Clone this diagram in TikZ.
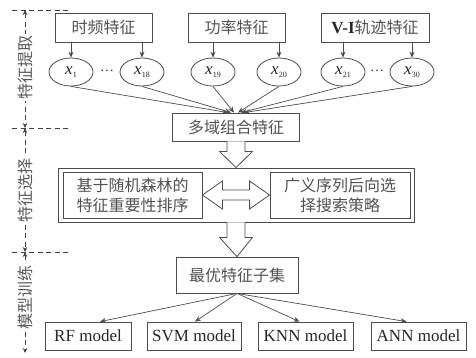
\documentclass[tikz,border=0pt]{standalone}
\usepackage{fontspec}
\setmainfont{Liberation Serif}
\newfontfamily\cjk{Noto Sans CJK SC}
\usetikzlibrary{arrows.meta,calc,shapes.geometric}
\newcommand\xsub[1]{{\fontsize{17}{17}\selectfont\textit{x}}\raisebox{-2.5pt}{\fontsize{8}{8}\selectfont #1}}
\begin{document}
\begin{tikzpicture}[x=1pt,y=-1pt,line width=0.8pt,
  box/.style={draw=black!70, rectangle, inner sep=0pt, text=black!85},
  cn/.style={font=\cjk\fontsize{16}{20}\selectfont, text=black!68},
  en/.style={font=\fontsize{17}{20}\selectfont},
  ell/.style={draw=black!70, ellipse, minimum width=44pt, minimum height=28pt, inner sep=0pt, text=black!85},
  arr/.style={draw=black!70, line width=0.7pt, -{Stealth[length=6pt,width=5pt]}},
  hol/.style={draw=black!70, line width=0.8pt, fill=white, line join=miter},
  axis/.style={draw=black!75, line width=0.8pt, dash pattern=on 5pt off 3.5pt, {Stealth[length=5pt,width=4.5pt]}-{Stealth[length=5pt,width=4.5pt]}},
  tick/.style={draw=black!75, line width=0.8pt, dash pattern=on 5pt off 3.5pt},
  lab/.style={font=\cjk\fontsize{16}{20}\selectfont, text=black!65, fill=white, rotate=90, inner sep=1.5pt}
]
\useasboundingbox (0,0) rectangle (476,357);

% axis
\coordinate (a0) at (25,10);
\coordinate (a1) at (25,128);
\coordinate (a2) at (25,252);
\coordinate (a3) at (25,353);
\coordinate (t0l) at (12,10);  \coordinate (t0r) at (70,10);
\coordinate (t1l) at (12,128); \coordinate (t1r) at (70,128);
\coordinate (t2l) at (12,252); \coordinate (t2r) at (70,252);
\draw[tick] (t0l) -- (t0r);
\draw[tick] (t1l) -- (t1r);
\draw[tick] (t2l) -- (t2r);
\draw[axis] (a0) -- (a1);
\draw[axis] (a1) -- (a2);
\draw[axis] (a2) -- (a3);
\node[lab] (l1) at (25,67) {特征提取};
\node[lab] (l2) at (25,190) {特征选择};
\node[lab] (l3) at (25,297) {模型训练};

% top boxes
\node[box, cn, minimum width=97pt, minimum height=29pt] (tf) at (103.5,27.5) {时频特征};
\node[box, cn, minimum width=97pt, minimum height=29pt] (gl) at (236.5,27.5) {功率特征};
\node[box, cn, minimum width=108pt, minimum height=29pt] (vi) at (375,27.5) {{\fontspec{Liberation Serif}\fontsize{17}{20}\selectfont\bfseries\color{black!85} V-I}轨迹特征};

% ellipses
\node[ell] (e1) at (71,72) {\xsub{1}};
\node[ell] (e18) at (142,72) {\xsub{18}};
\node[ell] (e19) at (213,72) {\xsub{19}};
\node[ell] (e20) at (279,72) {\xsub{20}};
\node[ell] (e21) at (343,72) {\xsub{21}};
\node[ell] (e30) at (412,72) {\xsub{30}};
\node[text=black!80, font=\fontsize{14}{14}\selectfont] (d1) at (107,71) {…};
\node[text=black!80, font=\fontsize{14}{14}\selectfont] (d2) at (377,71) {…};

\draw[arr] (e1.north |- tf.south) -- (e1.north);
\draw[arr] (e18.north |- tf.south) -- (e18.north);
\draw[arr] (e19.north |- gl.south) -- (e19.north);
\draw[arr] (e20.north |- gl.south) -- (e20.north);
\draw[arr] (e21.north |- vi.south) -- (e21.north);
\draw[arr] (e30.north |- vi.south) -- (e30.north);

% multi-domain
\node[box, cn, minimum width=127pt, minimum height=28pt] (dom) at (236,127) {多域组合特征};
\draw[arr] (e1.south) -- ($(dom.north)+(-8,0)$);
\draw[arr] (e18.south) -- ($(dom.north)+(-5,0)$);
\draw[arr] (e19.south) -- ($(dom.north)+(-2,0)$);
\draw[arr] (e20.south) -- ($(dom.north)+(2,0)$);
\draw[arr] (e21.south) -- ($(dom.north)+(5,0)$);
\draw[arr] (e30.south) -- ($(dom.north)+(8,0)$);

% feature selection frame
\node[box, minimum width=356pt, minimum height=54pt] (outer) at (236,195) {};
\node[box, cn, align=center, minimum width=139pt, minimum height=46pt] (rfb) at (132.5,195) {基于随机森林的\\特征重要性排序};
\node[box, cn, align=center, minimum width=140pt, minimum height=46pt] (bsb) at (340,195) {广义序列后向选\\择搜索策略};

% hollow arrows
\draw[hol] ($(dom.south)+(-9,0)$) -- ++(0,10) -- ++(-7.5,0) -- (outer.north) -- ($(dom.south)+(16.5,10)$) -- ++(-7.5,0) -- ($(dom.south)+(9,0)$);
\draw[hol] (rfb.east) -- ++(20,-14) -- ++(0,9) -- ($(bsb.west)+(-20,-5)$) -- ++(0,-9) -- (bsb.west) -- ++(-20,14) -- ++(0,-9) -- ($(rfb.east)+(20,5)$) -- ++(0,9) -- cycle;

% best subset
\node[box, cn, minimum width=122pt, minimum height=36pt] (best) at (237,275) {最优特征子集};
\draw[hol] ($(outer.south)+(-9,0)$) -- ++(0,15) -- ++(-7.5,0) -- (best.north) -- ($(outer.south)+(16.5,15)$) -- ++(-7.5,0) -- ($(outer.south)+(9,0)$);

% models
\node[box, en, minimum width=86pt, minimum height=28pt] (rf) at (88,336) {RF model};
\node[box, en, minimum width=94pt, minimum height=28pt] (svm) at (194,336) {SVM model};
\node[box, en, minimum width=95pt, minimum height=28pt] (knn) at (305.5,336) {KNN model};
\node[box, en, minimum width=95pt, minimum height=28pt] (ann) at (418.5,336) {ANN model};
\draw[arr] (best.south) -- ($(rf.north)+(12,0)$);
\draw[arr] (best.south) -- ($(svm.north)+(1,0)$);
\draw[arr] (best.south) -- ($(knn.north)+(-6,0)$);
\draw[arr] (best.south) -- ($(ann.north)+(-12,0)$);
\end{tikzpicture}
\end{document}
